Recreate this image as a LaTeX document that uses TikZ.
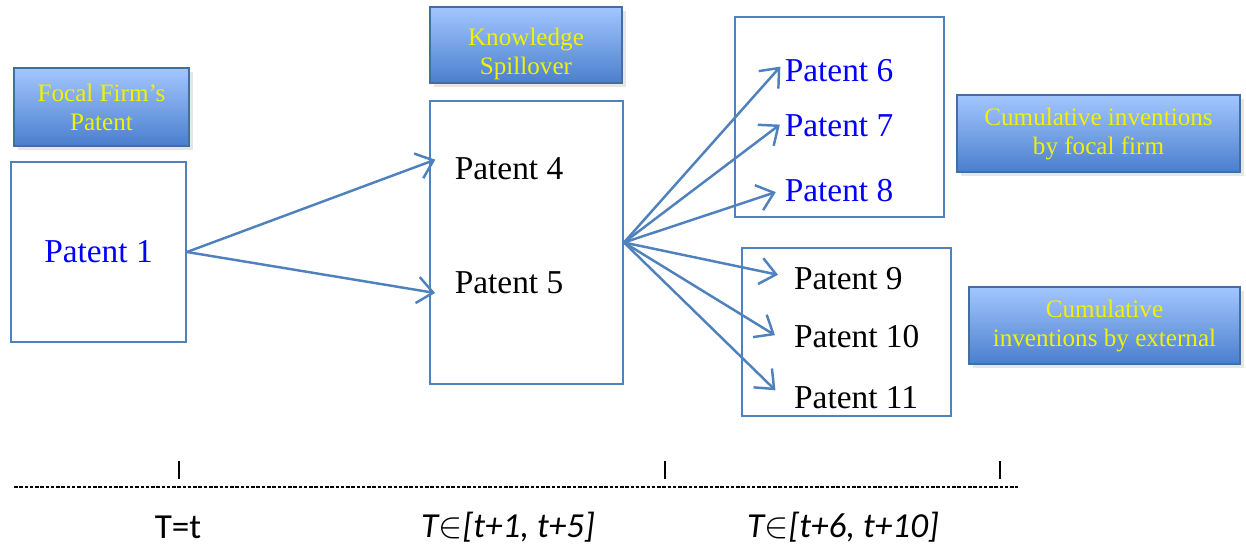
\documentclass[tikz,border=0pt]{standalone}
\usepackage{fontspec}
\setmainfont{Liberation Serif}
\newfontfamily\axisfont{Carlito}
\usetikzlibrary{arrows.meta,shadows}
\definecolor{linkblue}{HTML}{4F81BD}
\definecolor{tagtop}{HTML}{A3C6FF}
\definecolor{tagbottom}{HTML}{4A7FCD}
\definecolor{tagtext}{HTML}{F2F200}
\tikzset{
    pbox/.style={draw=linkblue, line width=1.1pt, fill=white, font=\fontsize{19}{22}\selectfont},
    tag/.style={draw=linkblue!85!black, line width=0.8pt, top color=tagtop, bottom color=tagbottom, text=tagtext, align=center,
        font=\fontsize{14.3}{16.5}\selectfont, drop shadow={opacity=0.2, shadow xshift=2pt, shadow yshift=-2pt}},
    ptext/.style={font=\fontsize{19}{22}\selectfont, inner sep=1pt},
    link/.style={draw=linkblue, line width=1.4pt, -{Straight Barb[length=9pt, width=15pt]}, shorten >=2pt},
    axlabel/.style={font=\axisfont\fontsize{20}{22}\selectfont}
}
\begin{document}
\begin{tikzpicture}[x=0.02cm, y=-0.02cm]
        \useasboundingbox (0, 0) rectangle (1246, 552);

        % labels above the boxes
        \node[tag, minimum width=3.5cm, minimum height=1.56cm] (focal) at (101.5, 107) {Focal Firm's \\ Patent};
        \node[tag, minimum width=3.84cm, minimum height=1.52cm] (spill) at (526, 45) {};
        \begin{scope}
            \clip (spill.south west) rectangle (spill.north east);
            \node[text=tagtext, align=center, font=\fontsize{14.3}{16.5}\selectfont] (spilltext) at (526, 54) {Knowledge \\ Spillover};
        \end{scope}
        \node[tag, minimum width=5.66cm, minimum height=1.54cm] (cumfirm) at (1098.5, 133.5) {Cumulative inventions \\ by focal firm};
        \node[tag, minimum width=5.42cm, minimum height=1.54cm] (cumext) at (1104.5, 325.5) {Cumulative \\ inventions by external};

        % patent boxes
        \node[pbox, text=blue, minimum width=3.5cm, minimum height=3.6cm] (box1) at (98.5, 252) {Patent 1};
        \node[pbox, minimum width=3.86cm, minimum height=5.66cm] (spillbox) at (526.5, 242.5) {};
        \node[pbox, minimum width=4.18cm, minimum height=4cm] (firmbox) at (839.5, 117) {};
        \node[pbox, minimum width=4.18cm, minimum height=3.36cm] (extbox) at (846.5, 332) {};

        \node[ptext] (p4) at (509, 169) {Patent 4};
        \node[ptext] (p5) at (509, 283) {Patent 5};
        \node[ptext, text=blue] (p6) at (839, 71) {Patent 6};
        \node[ptext, text=blue] (p7) at (839, 126) {Patent 7};
        \node[ptext, text=blue] (p8) at (839, 191) {Patent 8};
        \node[ptext, anchor=west] (p9) at (792, 279) {Patent 9};
        \node[ptext, anchor=west] (p10) at (792, 337) {Patent 10};
        \node[ptext, anchor=west] (p11) at (792, 398) {Patent 11};

        \begin{scope}[link]
            \draw (box1.east) -- ([xshift=-8pt, yshift=6pt]p4.west);
            \draw (box1.east) -- ([xshift=-8pt, yshift=-6pt]p5.west);
            \draw (spillbox.east) -- ([yshift=4pt]p6.west);
            \draw (spillbox.east) -- ([yshift=2pt]p7.west);
            \draw (spillbox.east) -- ([xshift=-2pt]p8.west);
            \draw (spillbox.east) -- ([xshift=-6pt, yshift=2pt]p9.west);
            \draw (spillbox.east) -- ([xshift=-8pt]p10.west);
            \draw (spillbox.east) -- ([xshift=-8pt, yshift=3pt]p11.west);
        \end{scope}

        % time axis
        \coordinate (axl) at (14, 487);
        \coordinate (axr) at (1018, 487);
        \draw[line width=0.9pt, dash pattern=on 2pt off 1pt] (axl) -- (axr);
        \foreach \x in {179, 665, 1000}
            \draw[line width=0.6pt] (\x, 461) -- (\x, 479);
        \node[axlabel] (t0) at (178, 527) {T=t};
        \node[axlabel] (t1) at (508, 527) {\itshape T$\in$[t+1, t+5]};
        \node[axlabel] (t2) at (843, 527) {\itshape T$\in$[t+6, t+10]};
    \end{tikzpicture}
\end{document}
